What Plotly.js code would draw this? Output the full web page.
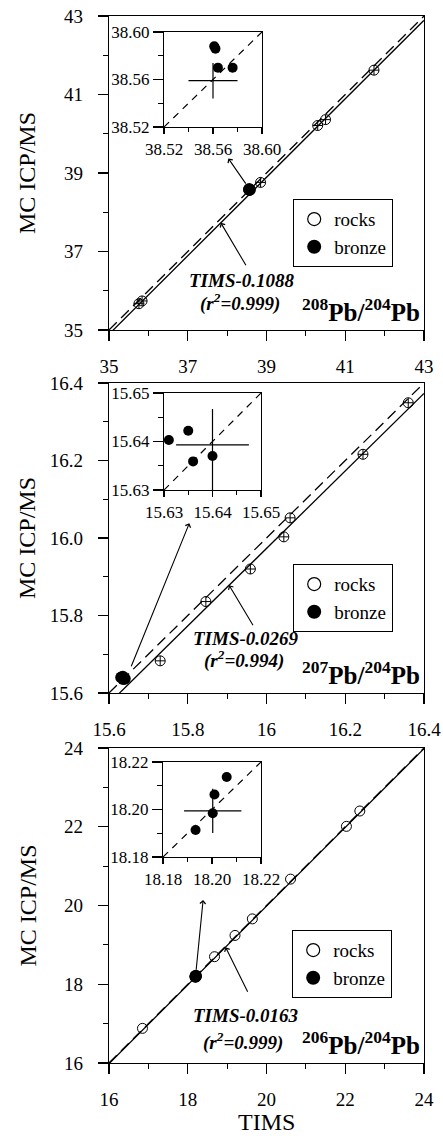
<!DOCTYPE html>
<html>
<head>
<meta charset="utf-8">
<script src="https://cdn.plot.ly/plotly-3.0.1.min.js"></script>
<style>
  html, body { margin: 0; padding: 0; background: #fff; }
  #chart { width: 443px; height: 1136px; }
</style>
</head>
<body>
<div id="chart"></div>
<script>
// ---- 208Pb/204Pb ----
const pb208RocksTIMS = [35.76, 35.84, 38.85, 40.30, 40.50, 41.73];
const pb208RocksMC   = [35.67, 35.74, 38.76, 40.21, 40.36, 41.62];
const pb208BronzeTIMS = [38.561, 38.562, 38.564, 38.576];
const pb208BronzeMC   = [38.588, 38.586, 38.570, 38.570];
const pb208Ref = { x: 38.560, y: 38.559, ex: 0.020, eyPlus: 0.015, eyMinus: 0.015 };

// ---- 207Pb/204Pb ----
const pb207RocksTIMS = [15.730, 15.846, 15.959, 16.044, 16.060, 16.245, 16.360];
const pb207RocksMC   = [15.683, 15.836, 15.920, 16.003, 16.052, 16.216, 16.349];
const pb207BronzeTIMS = [15.631, 15.635, 15.636, 15.640];
const pb207BronzeMC   = [15.6403, 15.6422, 15.6359, 15.6370];
const pb207Ref = { x: 15.640, y: 15.6393, ex: 0.0075, eyPlus: 0.0074, eyMinus: 0.0093 };

// ---- 206Pb/204Pb ----
const pb206RocksTIMS = [16.85, 18.68, 19.20, 19.64, 20.61, 22.03, 22.37];
const pb206RocksMC   = [16.88, 18.70, 19.24, 19.66, 20.67, 22.01, 22.40];
const pb206BronzeTIMS = [18.206, 18.201, 18.2003, 18.1933];
const pb206BronzeMC   = [18.2137, 18.2063, 18.1984, 18.1914];
const pb206Ref = { x: 18.2003, y: 18.1994, ex: 0.0117, eyPlus: 0.0093, eyMinus: 0.0093 };

// regression offsets (MC = TIMS + offset) and fit quality
const fitOffsets = [-0.1088, -0.0269, -0.0163];
const fitR2 = ['0.999', '0.994', '0.999'];

// axis ranges and tick labels
const mainRanges = [[35, 43], [15.6, 16.4], [16, 24]];
const mainXTickVals = [[35, 37, 39, 41, 43], [15.6, 15.8, 16.0, 16.2, 16.4], [16, 18, 20, 22, 24]];
const mainXTickText = [['35', '37', '39', '41', '43'], ['15.6', '15.8', '16', '16.2', '16.4'], ['16', '18', '20', '22', '24']];
const mainYTickVals = [[35, 37, 39, 41, 43], [15.6, 15.8, 16.0, 16.2, 16.4], [16, 18, 20, 22, 24]];
const mainYTickText = [['35', '37', '39', '41', '43'], ['15.6', '15.8', '16.0', '16.2', '16.4'], ['16', '18', '20', '22', '24']];
const mainMinorStep = [1, 0.1, 1];

const insetRanges = [[38.52, 38.60], [15.63, 15.65], [18.18, 18.22]];
const insetTickVals = [[38.52, 38.56, 38.60], [15.63, 15.64, 15.65], [18.18, 18.20, 18.22]];
const insetTickText = [['38.52', '38.56', '38.60'], ['15.63', '15.64', '15.65'], ['18.18', '18.20', '18.22']];
const insetMinorStep = [0.02, 0.005, 0.01];

const isotopeLabels = ['<sup>208</sup>Pb/<sup>204</sup>Pb', '<sup>207</sup>Pb/<sup>204</sup>Pb', '<sup>206</sup>Pb/<sup>204</sup>Pb'];
const seriesNames = ['rocks', 'bronze'];
const rockSymbols = ['circle-cross-open', 'circle-cross-open', 'circle-open'];

// arrows: [headX, headY, tailX, tailY] in data units of each main panel
const fitArrows = [[37.84, 37.73, 38.50, 36.61], [15.905, 15.878, 15.968, 15.771], [18.96, 18.94, 19.54, 17.77]];
const insetArrows = [[38.03, 39.37, 38.50, 38.69], [15.804, 16.038, 15.655, 15.665], [18.39, 20.14, 18.21, 18.33]];

const panels = [
  { rx: pb208RocksTIMS, ry: pb208RocksMC, bx: pb208BronzeTIMS, by: pb208BronzeMC, ref: pb208Ref },
  { rx: pb207RocksTIMS, ry: pb207RocksMC, bx: pb207BronzeTIMS, by: pb207BronzeMC, ref: pb207Ref },
  { rx: pb206RocksTIMS, ry: pb206RocksMC, bx: pb206BronzeTIMS, by: pb206BronzeMC, ref: pb206Ref }
];

// ---- page geometry (pixels) ----
const W = 443, H = 1136;
const FONT = '"Liberation Serif", "Times New Roman", Times, serif';
const mainBoxX = [109, 424];
const mainBoxY = [[16, 330], [383, 693], [748, 1063]];
const insetBoxX = [[164, 262], [164, 261], [163, 261]];
const insetBoxY = [[32, 127], [393, 490], [762, 857]];
const legendPos = [[293, 199], [293, 564], [292, 930]];
const fitTextPos = [[242, 280, 302], [246, 638, 659], [245, 1015, 1041]];

const px = v => v / W;
const py = v => 1 - v / H;

const data = [];
const layout = {
  width: W, height: H,
  margin: { l: 0, r: 0, t: 0, b: 0, pad: 0 },
  paper_bgcolor: '#fff', plot_bgcolor: 'rgba(0,0,0,0)',
  font: { family: FONT, color: '#000' },
  showlegend: true,
  annotations: []
};

function axisBase(extra) {
  return Object.assign({
    showgrid: false, zeroline: false, showline: true, mirror: true,
    linecolor: '#000', linewidth: 1.2, ticks: 'outside', tickcolor: '#000', tickwidth: 1.2,
    fixedrange: true, automargin: false
  }, extra);
}

panels.forEach((p, i) => {
  const n = i + 1;
  const xa = n === 1 ? 'x' : 'x' + n;
  const ya = n === 1 ? 'y' : 'y' + n;
  const m = 3 + n;
  const xi = 'x' + m, yi = 'y' + m;
  const rng = mainRanges[i];
  const irng = insetRanges[i];
  const legendId = n === 1 ? 'legend' : 'legend' + n;

  // 1:1 reference line
  data.push({ x: rng, y: rng, xaxis: xa, yaxis: ya, mode: 'lines', showlegend: false,
    line: { color: '#000', width: 1.3, dash: '11px,6px' }, hoverinfo: 'skip' });
  // regression line MC = TIMS + offset
  data.push({ x: rng, y: rng.map(v => v + fitOffsets[i]), xaxis: xa, yaxis: ya, mode: 'lines', showlegend: false,
    line: { color: '#000', width: 1.3 }, hoverinfo: 'skip' });
  // rocks
  data.push({ x: p.rx, y: p.ry, xaxis: xa, yaxis: ya, mode: 'markers', showlegend: false,
    marker: { symbol: rockSymbols[i], size: 10, color: '#000', line: { color: '#000', width: 1 } } });
  // bronze
  data.push({ x: p.bx, y: p.by, xaxis: xa, yaxis: ya, mode: 'markers', showlegend: false,
    marker: { symbol: 'circle', size: 12, color: '#000' } });

  // legend entries
  data.push({ x: [null], y: [null], xaxis: xa, yaxis: ya, mode: 'markers', name: seriesNames[0], legend: legendId,
    marker: { symbol: 'circle-open', size: 13, color: '#000', line: { color: '#000', width: 1.2 } } });
  data.push({ x: [null], y: [null], xaxis: xa, yaxis: ya, mode: 'markers', name: seriesNames[1], legend: legendId,
    marker: { symbol: 'circle', size: 14, color: '#000' } });

  // inset: 1:1 line, reference cross, bronze points
  data.push({ x: irng, y: irng, xaxis: xi, yaxis: yi, mode: 'lines', showlegend: false,
    line: { color: '#000', width: 1.2, dash: '7px,6px' }, hoverinfo: 'skip' });
  data.push({ x: [p.ref.x], y: [p.ref.y], xaxis: xi, yaxis: yi, mode: 'markers', showlegend: false,
    marker: { size: 1, color: '#000' },
    error_x: { type: 'data', array: [p.ref.ex], color: '#000', thickness: 1.2, width: 0 },
    error_y: { type: 'data', symmetric: false, array: [p.ref.eyPlus], arrayminus: [p.ref.eyMinus], color: '#000', thickness: 1.2, width: 0 } });
  data.push({ x: p.bx, y: p.by, xaxis: xi, yaxis: yi, mode: 'markers', showlegend: false,
    marker: { symbol: 'circle', size: 10, color: '#000' } });

  const key = n === 1 ? '' : String(n);
  const top = mainBoxY[i][0], bot = mainBoxY[i][1];
  layout['xaxis' + key] = axisBase({
    domain: [px(mainBoxX[0]), px(mainBoxX[1])], range: rng, anchor: ya,
    tickmode: 'array', tickvals: mainXTickVals[i], ticktext: mainXTickText[i], ticklen: 10,
    ticklabelstandoff: 9,
    minor: { ticks: 'outside', ticklen: 5, tickwidth: 1.2, tickcolor: '#000', tick0: rng[0], dtick: mainMinorStep[i], showgrid: false },
    tickfont: { family: FONT, size: 19, color: '#000' }
  });
  layout['yaxis' + key] = axisBase({
    domain: [py(bot), py(top)], range: rng, anchor: xa,
    tickmode: 'array', tickvals: mainYTickVals[i], ticktext: mainYTickText[i], ticklen: 10,
    ticklabelstandoff: 11,
    minor: { ticks: 'outside', ticklen: 5, tickwidth: 1.2, tickcolor: '#000', tick0: rng[0], dtick: mainMinorStep[i], showgrid: false },
    tickfont: { family: FONT, size: 19, color: '#000' }
  });
  layout['xaxis' + m] = axisBase({
    domain: [px(insetBoxX[i][0]), px(insetBoxX[i][1])], range: irng, anchor: yi,
    tickmode: 'array', tickvals: insetTickVals[i], ticktext: insetTickText[i], ticklen: 6,
    ticklabelstandoff: 0,
    minor: { ticks: 'outside', ticklen: 4, tickwidth: 1.2, tickcolor: '#000', tick0: irng[0], dtick: insetMinorStep[i], showgrid: false },
    tickfont: { family: FONT, size: 17, color: '#000' }
  });
  layout['yaxis' + m] = axisBase({
    domain: [py(insetBoxY[i][1]), py(insetBoxY[i][0])], range: irng, anchor: xi,
    tickmode: 'array', tickvals: insetTickVals[i], ticktext: insetTickText[i], ticklen: 10,
    ticklabelstandoff: 0,
    minor: { ticks: 'outside', ticklen: 5, tickwidth: 1.2, tickcolor: '#000', tick0: irng[0], dtick: insetMinorStep[i], showgrid: false },
    tickfont: { family: FONT, size: 17, color: '#000' }
  });

  layout[legendId] = {
    x: px(legendPos[i][0]), y: py(legendPos[i][1]), xanchor: 'left', yanchor: 'top',
    bgcolor: '#fff', bordercolor: '#000', borderwidth: 1.2,
    font: { family: FONT, size: 19, color: '#000' },
    tracegroupgap: 0, itemsizing: 'trace'
  };

  // y-axis title
  layout.annotations.push({ xref: 'paper', yref: 'paper', x: px(27), y: py((top + bot) / 2),
    text: 'MC ICP/MS', textangle: -90, showarrow: false, xanchor: 'center', yanchor: 'middle',
    font: { family: FONT, size: 24, color: '#000' } });
  // isotope ratio label
  layout.annotations.push({ xref: 'paper', yref: 'paper', x: px(mainBoxX[1] - 2), y: py(bot - 2),
    text: '<b>' + isotopeLabels[i] + '</b>', showarrow: false, xanchor: 'right', yanchor: 'bottom',
    font: { family: FONT, size: 25, color: '#000' } });
  // fit equation
  const ft = fitTextPos[i];
  layout.annotations.push({ xref: 'paper', yref: 'paper', x: px(ft[0]), y: py(ft[1]),
    text: '<b><i>TIMS' + fitOffsets[i].toFixed(4) + '</i></b>', showarrow: false, xanchor: 'center', yanchor: 'middle',
    font: { family: FONT, size: 19, color: '#000' } });
  layout.annotations.push({ xref: 'paper', yref: 'paper', x: px(ft[0] - 2), y: py(ft[2]),
    text: '<b><i>(r<sup>2</sup>=' + fitR2[i] + ')</i></b>', showarrow: false, xanchor: 'center', yanchor: 'middle',
    font: { family: FONT, size: 19, color: '#000' } });
  // arrows
  [fitArrows[i], insetArrows[i]].forEach(a => {
    layout.annotations.push({ xref: xa, yref: ya, axref: xa, ayref: ya,
      x: a[0], y: a[1], ax: a[2], ay: a[3], text: '', showarrow: true,
      arrowhead: 4, arrowsize: 1, arrowwidth: 1.1, arrowcolor: '#000', standoff: 0, startstandoff: 0 });
  });
});

// shared x-axis title under the bottom panel
layout.annotations.push({ xref: 'paper', yref: 'paper', x: px((mainBoxX[0] + mainBoxX[1]) / 2), y: py(1122),
  text: 'TIMS', showarrow: false, xanchor: 'center', yanchor: 'middle', height: 26, borderpad: 0,
  font: { family: FONT, size: 24, color: '#000' } });

Plotly.newPlot('chart', data, layout, { staticPlot: true, displayModeBar: false });
</script>
</body>
</html>
